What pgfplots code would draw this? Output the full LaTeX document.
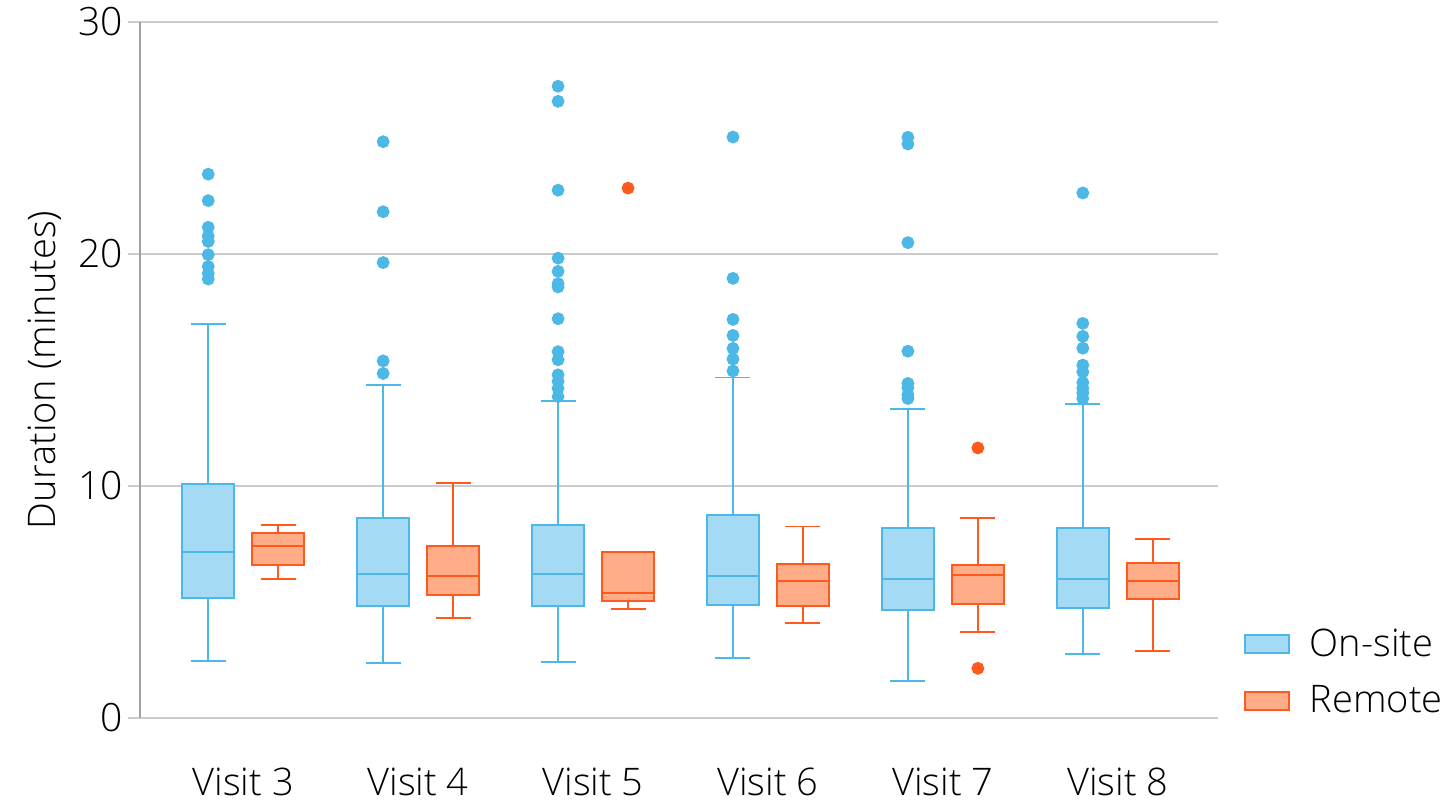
\documentclass[border=0pt]{standalone}
\usepackage{fontspec}
\setmainfont{Open Sans Light}
\usepackage{pgfplots}
\pgfplotsset{compat=1.18}
\usepgfplotslibrary{statistics}

\definecolor{onfill}{HTML}{A4DAF4}
\definecolor{onedge}{HTML}{4BB8E6}
\definecolor{refill}{HTML}{FFAC88}
\definecolor{reedge}{HTML}{FF5A1E}
\definecolor{gridgray}{HTML}{CCCCCC}
\definecolor{axisgray}{HTML}{A0A0A0}

\pgfplotsset{
  onsite/.style={draw=onedge, fill=onfill, line width=1pt,
    mark=*, mark size=2.7pt, mark options={solid, draw=onedge, fill=onedge}},
  remote/.style={draw=reedge, fill=refill, line width=1pt,
    mark=*, mark size=2.7pt, mark options={solid, draw=reedge, fill=reedge}},
}

\begin{document}
\begin{tikzpicture}
\begin{axis}[
  scale only axis,
  width=539pt, height=348pt,
  xmin=-0.59, xmax=5.573,
  ymin=0, ymax=30,
  ytick={0,10,20,30},
  xtick={0,1,2,3,4,5},
  xticklabels={Visit 3,Visit 4,Visit 5,Visit 6,Visit 7,Visit 8},
  /pgf/number format/assume math mode=true,
  axis y line*=left,
  axis x line*=bottom,
  x axis line style={draw=none},
  y axis line style={-, draw=axisgray, line width=1pt},
  xtick style={draw=none},
  ytick style={draw=gridgray, line width=0.75pt},
  tick align=outside,
  major tick length=6pt,
  ymajorgrids,
  grid style={gridgray, line width=0.75pt},
  tick label style={font=\fontsize{19}{22}\selectfont},
  yticklabel style={font=\fontsize{19.5}{23}\selectfont, inner sep=0pt, xshift=-2.5pt},
  xticklabel style={inner sep=0pt, yshift=-19pt},
  ylabel={Duration (minutes)},
  ylabel style={font=\fontsize{19}{23}\selectfont, yshift=5pt},
  clip=false,
  boxplot/draw direction=y,
  boxplot/box extend=0.296,
  boxplot/whisker extend=0.2,
  boxplot/every whisker/.style={line width=0.9pt},
  legend style={at={(1.0,0)}, anchor=south west, xshift=13pt, yshift=-1pt,
    inner sep=0pt, draw=none, fill=none, font=\fontsize{19}{22}\selectfont,
    row sep=9pt},
  legend cell align=left,
  legend image code/.code={\draw[#1, line width=1pt] (0pt,-4.5pt) rectangle (22pt,4.5pt);
    \path (30pt,0pt);},
]
\addlegendimage{draw=onedge, fill=onfill}
\addlegendentry{On-site}
\addlegendimage{draw=reedge, fill=refill}
\addlegendentry{Remote}

% Visit 3
\addplot[onsite, forget plot, boxplot prepared={draw position=-0.2,
  lower whisker=2.46, lower quartile=5.16, median=7.16, upper quartile=10.09, upper whisker=16.97}]
  coordinates {(0,23.44)(0,22.30)(0,21.15)(0,20.77)(0,20.54)(0,19.97)(0,19.46)(0,19.16)(0,18.92)};
\addplot[remote, forget plot, boxplot prepared={draw position=0.2,
  lower whisker=5.98, lower quartile=6.59, median=7.43, upper quartile=7.99, upper whisker=8.31}]
  coordinates {};
% Visit 4
\addplot[onsite, forget plot, boxplot prepared={draw position=0.8,
  lower whisker=2.38, lower quartile=4.81, median=6.22, upper quartile=8.60, upper whisker=14.36}]
  coordinates {(0,24.84)(0,21.82)(0,19.63)(0,15.39)(0,14.85)};
\addplot[remote, forget plot, boxplot prepared={draw position=1.2,
  lower whisker=4.32, lower quartile=5.31, median=6.10, upper quartile=7.43, upper whisker=10.12}]
  coordinates {};
% Visit 5
\addplot[onsite, forget plot, boxplot prepared={draw position=1.8,
  lower whisker=2.42, lower quartile=4.81, median=6.19, upper quartile=8.32, upper whisker=13.68}]
  coordinates {(0,27.23)(0,26.58)(0,22.75)(0,19.82)(0,19.25)(0,18.72)(0,18.58)(0,17.21)(0,15.79)(0,15.44)(0,14.79)(0,14.51)(0,14.21)(0,13.85)};
\addplot[remote, forget plot, boxplot prepared={draw position=2.2,
  lower whisker=4.70, lower quartile=5.05, median=5.39, upper quartile=7.14, upper whisker=7.14}]
  coordinates {(0,22.84)};
% Visit 6
\addplot[onsite, forget plot, boxplot prepared={draw position=2.8,
  lower whisker=2.58, lower quartile=4.86, median=6.12, upper quartile=8.77, upper whisker=14.68}]
  coordinates {(0,25.04)(0,18.95)(0,17.18)(0,16.49)(0,15.93)(0,15.47)(0,14.96)};
\addplot[remote, forget plot, boxplot prepared={draw position=3.2,
  lower whisker=4.09, lower quartile=4.82, median=5.91, upper quartile=6.63, upper whisker=8.25}]
  coordinates {};
% Visit 7
\addplot[onsite, forget plot, boxplot prepared={draw position=3.8,
  lower whisker=1.61, lower quartile=4.67, median=5.99, upper quartile=8.17, upper whisker=13.31}]
  coordinates {(0,25.03)(0,24.74)(0,20.49)(0,15.81)(0,14.42)(0,14.23)(0,13.93)(0,13.77)};
\addplot[remote, forget plot, boxplot prepared={draw position=4.2,
  lower whisker=3.72, lower quartile=4.93, median=6.18, upper quartile=6.58, upper whisker=8.62}]
  coordinates {(0,11.64)(0,2.14)};
% Visit 8
\addplot[onsite, forget plot, boxplot prepared={draw position=4.8,
  lower whisker=2.75, lower quartile=4.75, median=5.99, upper quartile=8.21, upper whisker=13.54}]
  coordinates {(0,22.63)(0,17.01)(0,16.45)(0,15.94)(0,15.21)(0,14.92)(0,14.46)(0,14.21)(0,14.01)(0,13.77)};
\addplot[remote, forget plot, boxplot prepared={draw position=5.2,
  lower whisker=2.89, lower quartile=5.13, median=5.90, upper quartile=6.66, upper whisker=7.70}]
  coordinates {};

% frame matching the reference canvas
\path (rel axis cs:-0.1299,-0.1307) rectangle (rel axis cs:1.2152,1.0316);
\end{axis}
\end{tikzpicture}
\end{document}
